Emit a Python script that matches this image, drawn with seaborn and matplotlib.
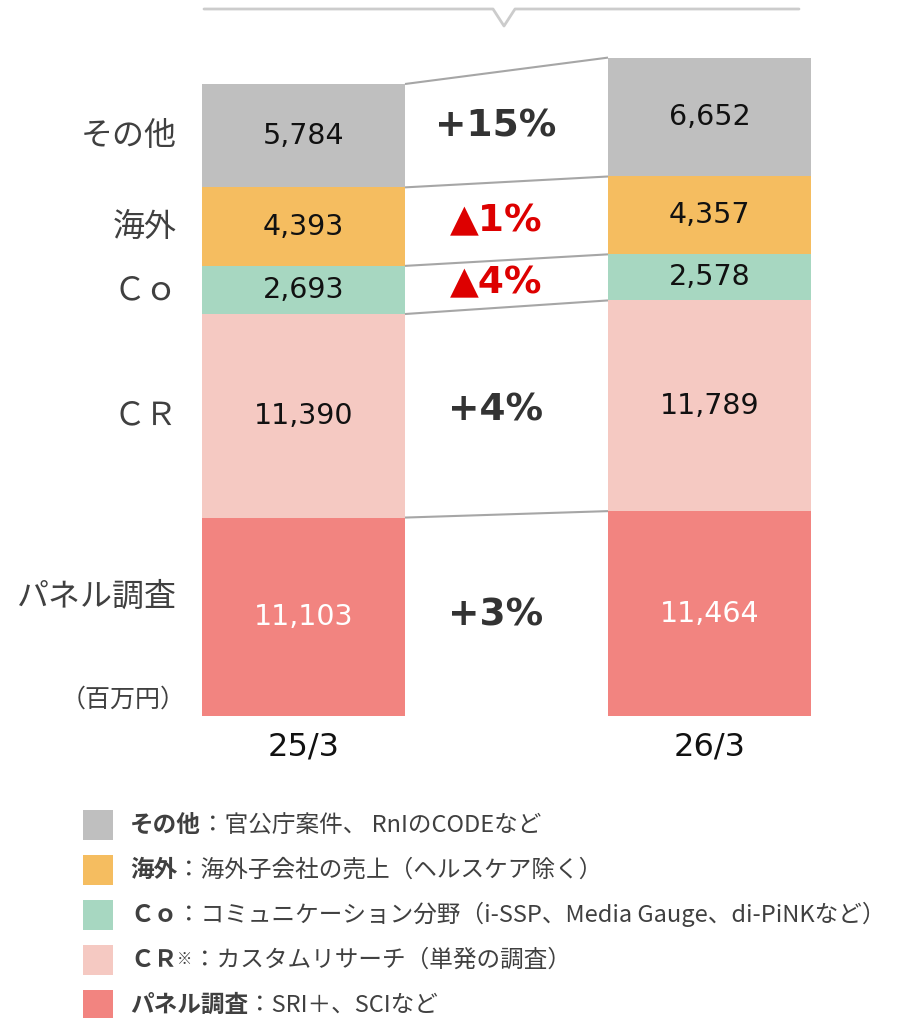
import matplotlib
matplotlib.use("Agg")
import matplotlib.pyplot as plt
import seaborn as sns
import pandas as pd
import numpy as np
from matplotlib.lines import Line2D
from matplotlib.patches import Rectangle

# ---------------- data ----------------
periods = ["25/3", "26/3"]
categories = ["パネル調査", "ＣＲ", "Ｃｏ", "海外", "その他"]  # bottom -> top
values_25 = [11103, 11390, 2693, 4393, 5784]
values_26 = [11464, 11789, 2578, 4357, 6652]
pct_labels = ["+3%", "+4%", "▲4%", "▲1%", "+15%"]
colors = ["#F28480", "#F5C9C2", "#A7D7C1", "#F5BD60", "#BFBFBF"]
unit_label = "（百万円）"
legend_names = ["その他", "海外", "Ｃｏ", "ＣＲ", "パネル調査"]
legend_desc = ["：官公庁案件、 RnIのCODEなど",
               "：海外子会社の売上（ヘルスケア除く）",
               "：コミュニケーション分野（i-SSP、Media Gauge、di-PiNKなど）",
               "：カスタムリサーチ（単発の調査）",
               "：SRI＋、SCIなど"]
legend_colors = ["#BFBFBF", "#F5BD60", "#A7D7C1", "#F5C9C2", "#F28480"]

sns.set_theme(style="white")
plt.rcParams['font.family'] = ['Noto Sans CJK JP', 'DejaVu Sans']

W, H = 897, 1018
fig = plt.figure(figsize=(W / 100, H / 100), dpi=100)
bottom_px = 716
ax = fig.add_axes([0, (H - bottom_px) / H, 1, bottom_px / H])

cum25 = np.cumsum(values_25)
cum26 = np.cumsum(values_26)
rows = []
for i, c in enumerate(categories):
    rows.append({"period": periods[0], "cat": c, "top": cum25[i], "val": values_25[i]})
    rows.append({"period": periods[1], "cat": c, "top": cum26[i], "val": values_26[i]})
df = pd.DataFrame(rows)

# draw from top segment down so lower ones overlay
for i in reversed(range(len(categories))):
    sub = df[df["cat"] == categories[i]]
    sns.barplot(data=sub, x="period", y="top", order=periods, color=colors[i],
                saturation=1, width=0.5, errorbar=None, ax=ax, linewidth=0)

units_per_px = cum25[-1] / 632.0
ax.set_ylim(0, bottom_px * units_per_px)
center_px, step_px = 303.5, 406.0
ax.set_xlim(-center_px / step_px, (W - center_px) / step_px)
for s in ax.spines.values():
    s.set_visible(False)
ax.set_yticks([])
ax.set_xlabel("")
ax.set_ylabel("")
ax.set_xticks([0, 1])
ax.set_xticklabels(periods, fontsize=23, color="#111111", family=['DejaVu Sans'])
ax.tick_params(axis='x', length=0, pad=11)

# connecting lines
for i in range(len(categories)):
    ax.plot([0.25, 0.75], [cum25[i], cum26[i]], color="#A6A6A6", lw=1.5,
            solid_capstyle="butt", zorder=1)

# value labels
for bi, (vals, cums) in enumerate([(values_25, cum25), (values_26, cum26)]):
    for i, v in enumerate(vals):
        mid = cums[i] - v / 2
        ax.text(bi, mid, f"{v:,}", ha="center", va="center", fontsize=20.5,
                color="white" if i == 0 else "#111111", family=['DejaVu Sans'])

# left category labels
lab_x = (177 - center_px) / step_px
for i, c in enumerate(categories):
    mid = cum25[i] - values_25[i] / 2
    if i == 0:
        mid += values_25[i] * 0.1
    ax.text(lab_x, mid, c, ha="right", va="center", fontsize=23, color="#404040")
ax.text((186 - center_px) / step_px, 16 * units_per_px, unit_label, ha="right",
        va="center", fontsize=18, color="#404040")

# percent labels
pct_x = (496 - center_px) / step_px
for i, p in enumerate(pct_labels):
    m1 = cum25[i] - values_25[i] / 2
    m2 = cum26[i] - values_26[i] / 2
    col = "#DD0000" if p.startswith("▲") else "#333333"
    ax.text(pct_x, (m1 + m2) / 2, p, ha="center", va="center", fontsize=27,
            fontweight="bold", color=col, family=['DejaVu Sans'])

# top bracket
bx = [204, 493, 504, 515, 799]
by = [9, 9, 26, 9, 9]
fig.add_artist(Line2D([x / W for x in bx], [1 - y / H for y in by],
                      color="#CCCCCC", lw=2, transform=fig.transFigure))

# legend
row_y = [825, 870, 915, 960, 1005]
for name, desc, col, y in zip(legend_names, legend_desc, legend_colors, row_y):
    fig.add_artist(Rectangle((83 / W, 1 - (y + 15) / H), 30 / W, 30 / H,
                             transform=fig.transFigure, color=col, lw=0))
    t = fig.text(130 / W, 1 - y / H, name, ha="left", va="center", fontsize=17,
                 fontweight="bold", color="#404040")
    if name == "ＣＲ":
        sup = plt.annotate("※", xy=(1, 1), xycoords=t, xytext=(0, -2),
                           textcoords="offset points", ha="left", va="top",
                           fontsize=11, color="#404040", annotation_clip=False)
        plt.annotate(desc, xy=(1, 0), xycoords=(sup, t), ha="left", va="bottom",
                     fontsize=17, color="#404040", annotation_clip=False)
    else:
        plt.annotate(desc, xy=(1, 0), xycoords=t, ha="left", va="bottom",
                     fontsize=17, color="#404040", annotation_clip=False)

fig.savefig("out.png", dpi=100)
